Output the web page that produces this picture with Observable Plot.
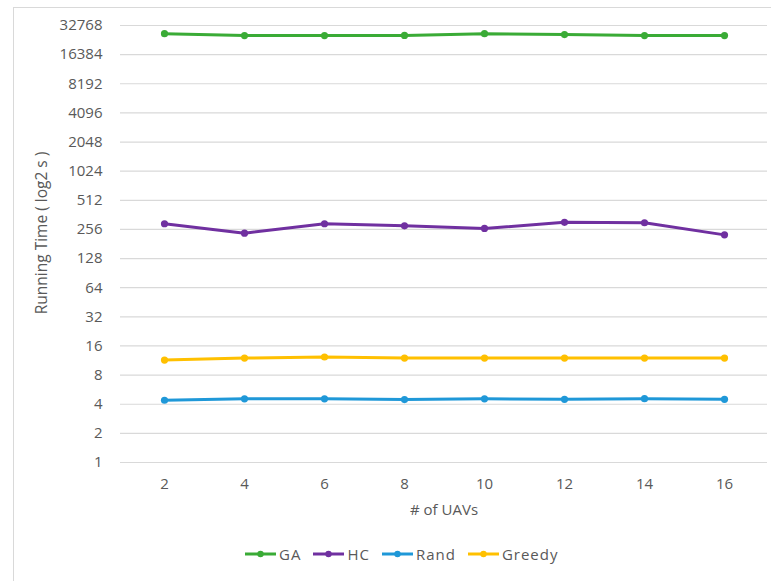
<!DOCTYPE html>
<html>
<head>
<meta charset="utf-8">
<script src="https://cdn.jsdelivr.net/npm/d3@7"></script>
<script src="https://cdn.jsdelivr.net/npm/@observablehq/plot@0.6"></script>
<style>
  html, body { margin: 0; padding: 0; background: #fff; }
  #page { position: relative; width: 771px; height: 581px; overflow: hidden; font-family: "Open Sans", sans-serif; }
  #frame { position: absolute; left: 13px; top: 7px; width: 900px; height: 700px;
           border-left: 1px solid #d9d9d9; border-top: 1px solid #d9d9d9; box-sizing: border-box; }
  #chart { position: absolute; left: 0; top: 0; }
  #legend { position: absolute; left: 245px; top: 544px; display: flex; align-items: center;
            font-size: 15px; color: #595959; letter-spacing: 1px; }
  #legend .item { display: flex; align-items: center; margin-right: 12px; }
  #legend svg { margin-right: 3px; }
</style>
</head>
<body>
<div id="page">
  <div id="frame"></div>
  <div id="chart"></div>
  <div id="legend"></div>
</div>
<script>
// Number of UAVs on the x axis
const uavs = [2, 4, 6, 8, 10, 12, 14, 16];

// Running time in seconds for each algorithm
const gaTime = [27000, 25800, 25800, 25900, 27000, 26400, 25800, 25800];
const hcTime = [293, 234, 293, 279, 262, 303, 300, 225];
const randTime = [4.4, 4.55, 4.55, 4.47, 4.55, 4.5, 4.57, 4.5];
const greedyTime = [11.45, 12.0, 12.3, 12.0, 12.0, 12.0, 12.0, 12.0];

// Power-of-two tick values on the log axis
const yTicks = [1, 2, 4, 8, 16, 32, 64, 128, 256, 512, 1024, 2048, 4096, 8192, 16384, 32768];

const seriesNames = ["GA", "HC", "Rand", "Greedy"];
const seriesColors = ["#3aab36", "#7030a0", "#1f98d8", "#ffc000"];
const seriesValues = [gaTime, hcTime, randTime, greedyTime];

const rows = seriesNames.flatMap((name, i) =>
  uavs.map((u, j) => ({series: name, uavs: u, time: seriesValues[i][j]}))
);

const textColor = "#595959";

const chart = Plot.plot({
  width: 771,
  height: 525,
  marginLeft: 120,
  marginRight: 4,
  marginTop: 25,
  marginBottom: 63,
  style: {fontFamily: "'Open Sans', sans-serif", fontSize: "15px", color: textColor, background: "transparent"},
  x: {type: "point", domain: uavs, padding: 0.5, label: null},
  y: {type: "log", base: 2, domain: [1, 32768], label: null},
  color: {domain: seriesNames, range: seriesColors},
  marks: [
    Plot.gridY(yTicks, {stroke: "#d9d9d9", strokeOpacity: 1, strokeWidth: 1.2}),
    Plot.axisY(yTicks, {tickSize: 0, tickPadding: 18, tickFormat: d => String(d), fill: textColor, fontSize: 15, label: null}),
    Plot.axisX(uavs, {tickSize: 0, tickPadding: 16, fill: textColor, fontSize: 15, label: null}),
    Plot.line(rows, {x: "uavs", y: "time", z: "series", stroke: "series", strokeWidth: 3, curve: "linear"}),
    Plot.dot(rows, {x: "uavs", y: "time", fill: "series", r: 3.6}),
    Plot.text(["Running Time ( log2 s )"], {frameAnchor: "left", textAnchor: "middle", rotate: -90, dx: -78, dy: -11, fill: textColor, fontSize: 15.5, letterSpacing: 1}),
    Plot.text(["# of UAVs"], {frameAnchor: "bottom", dy: 48, fill: textColor, fontSize: 15, lineAnchor: "middle"})
  ]
});
document.getElementById("chart").appendChild(chart);

// Legend: line swatch with a dot, followed by the series name
const legend = document.getElementById("legend");
seriesNames.forEach((name, i) => {
  const item = document.createElement("div");
  item.className = "item";
  item.innerHTML = `<svg width="31" height="10"><line x1="0" y1="5" x2="31" y2="5" stroke="${seriesColors[i]}" stroke-width="3"/><circle cx="15.5" cy="5" r="3.2" fill="${seriesColors[i]}"/></svg><span>${name}</span>`;
  legend.appendChild(item);
});
</script>
</body>
</html>
